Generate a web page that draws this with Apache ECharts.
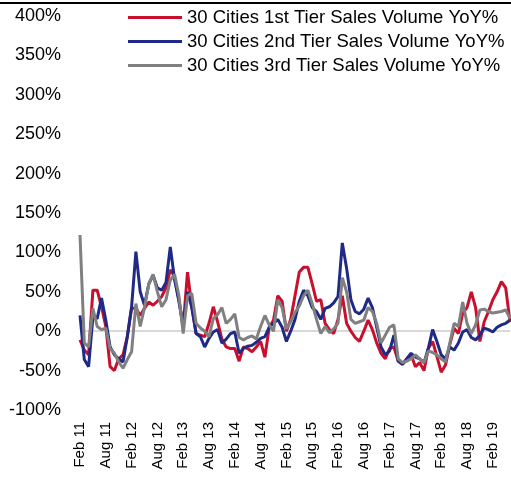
<!DOCTYPE html>
<html>
<head>
<meta charset="utf-8">
<script src="https://cdn.jsdelivr.net/npm/echarts@6/dist/echarts.min.js"></script>
<style>
  html, body { margin: 0; padding: 0; background: #fff; }
  #demo { width: 511px; height: 479px; }
</style>
</head>
<body>
<div id="demo"></div>
<script>
// monthly, Feb 2011 .. Jun 2019
var monthNames = ['Jan', 'Feb', 'Mar', 'Apr', 'May', 'Jun', 'Jul', 'Aug', 'Sep', 'Oct', 'Nov', 'Dec'];
var months = [];
for (var k = 0; k < 101; k++) {
    var m = (1 + k) % 12;
    var y = 11 + Math.floor((1 + k) / 12);
    months.push(monthNames[m] + ' ' + y);
}

var tier1 = [-11, -24, -30, 52, 52, 31, 6, -45, -50, -35, -30, -7, 29, 29, 20, 29, 37, 33, 38, 44,
    55, 78, 69, 40, 6, 75, 31, -3, -5, -7, 10, 31, 12, -10, -20, -22, -22, -38, -20, -22,
    -26, -20, -13, -33, 5, 14, 45, 38, 0, 15, 45, 75, 81, 81, 60, 38, 40, 10, 2, -3,
    15, 45, 10, 0, -8, -13, 0, 14, 2, -15, -28, -35, -22, -20, -38, -42, -36, -30, -45, -40,
    -50, -22, -13, -32, -52, -43, -17, 4, -3, 23, 30, 50, 30, -13, 12, 25, 40, 50, 63, 55,
    12];
var tier2 = [20, -36, -45, 18, 16, 42, 14, -20, -30, -35, -39, -7, 31, 101, 50, 33, 60, 71, 55, 52,
    62, 107, 65, 38, 6, 50, 30, -3, -7, -20, -9, -1, 2, -15, -10, -3, -1, -28, -22, -19,
    -18, -14, -9, -7, 5, 10, 15, 5, -13, 0, 15, 38, 52, 45, 30, 25, 15, 29, 31, 36,
    44, 112, 80, 40, 25, 22, 28, 42, 30, 5, -20, -30, -25, -5, -38, -42, -35, -28, -33, -35,
    -40, -22, 2, -13, -30, -35, -20, -24, -15, -1, 2, -8, -11, -5, 4, 2, -1, 5, 8, 10,
    14];
var tier3 = [122, -15, -20, 29, 6, 2, 4, -22, -28, -39, -47, -36, -26, 35, 6, 30, 60, 72, 50, 31,
    40, 65, 72, 45, -3, 45, 48, 10, 4, 0, -7, 16, 21, 30, 10, 15, 22, -8, -11, -8,
    -6, -10, 6, 20, 8, 0, 40, 30, 3, 12, 24, 32, 45, 52, 35, 15, -3, 6, -2, 3,
    10, 68, 50, 15, 10, 12, 14, 30, 25, 10, -15, -5, 5, 8, -35, -40, -38, -35, -30, -35,
    -40, -25, -27, -30, -35, -39, -15, 10, 6, 37, 10, -3, 8, 27, 28, 25, 23, 24, 25, 27,
    16];

var seriesNames = ['30 Cities 1st Tier Sales Volume YoY%', '30 Cities 2nd Tier Sales Volume YoY%', '30 Cities 3rd Tier Sales Volume YoY%'];

var myChart = echarts.init(document.getElementById('demo'));

var fontFamily = "'Liberation Sans', Arial, sans-serif";

var option = {
    animation: false,
    color: ['#C8102E', '#1F2A87', '#808080'],
    textStyle: {
        fontFamily: fontFamily
    },
    grid: {
        left: 80,
        right: 1,
        top: 16,
        bottom: 69
    },
    graphic: [
        {
            type: 'rect',
            left: 0,
            top: 2,
            shape: { width: 511, height: 2 },
            style: { fill: '#000' }
        }
    ],
    legend: {
        orient: 'vertical',
        left: 128,
        top: 8,
        icon: 'rect',
        itemWidth: 54,
        itemHeight: 3,
        itemGap: 5,
        padding: 0,
        data: seriesNames,
        textStyle: {
            fontSize: 18.5,
            lineHeight: 18,
            color: '#000',
            fontFamily: fontFamily
        }
    },
    xAxis: {
        type: 'category',
        data: months,
        boundaryGap: false,
        axisLine: { show: false },
        axisTick: { show: false },
        axisLabel: {
            interval: 5,
            rotate: 90,
            margin: 12,
            fontSize: 15,
            color: '#000',
            fontFamily: fontFamily
        }
    },
    yAxis: {
        type: 'value',
        min: -100,
        max: 400,
        interval: 50,
        axisLine: { show: false },
        axisTick: { show: false },
        splitLine: { show: false },
        axisLabel: {
            formatter: '{value}%',
            margin: 19,
            fontSize: 18,
            color: '#000',
            fontFamily: fontFamily
        }
    },
    series: [
        {
            name: seriesNames[0],
            type: 'line',
            data: tier1,
            symbol: 'none',
            lineStyle: { width: 3 },
            markLine: {
                silent: true,
                z: 1,
                symbol: 'none',
                label: { show: false },
                lineStyle: { color: '#D9D9D9', width: 2, type: 'solid' },
                data: [{ yAxis: 0 }]
            }
        },
        {
            name: seriesNames[1],
            type: 'line',
            data: tier2,
            symbol: 'none',
            lineStyle: { width: 3 }
        },
        {
            name: seriesNames[2],
            type: 'line',
            data: tier3,
            symbol: 'none',
            lineStyle: { width: 3 }
        }
    ]
};

myChart.setOption(option);
</script>
</body>
</html>
